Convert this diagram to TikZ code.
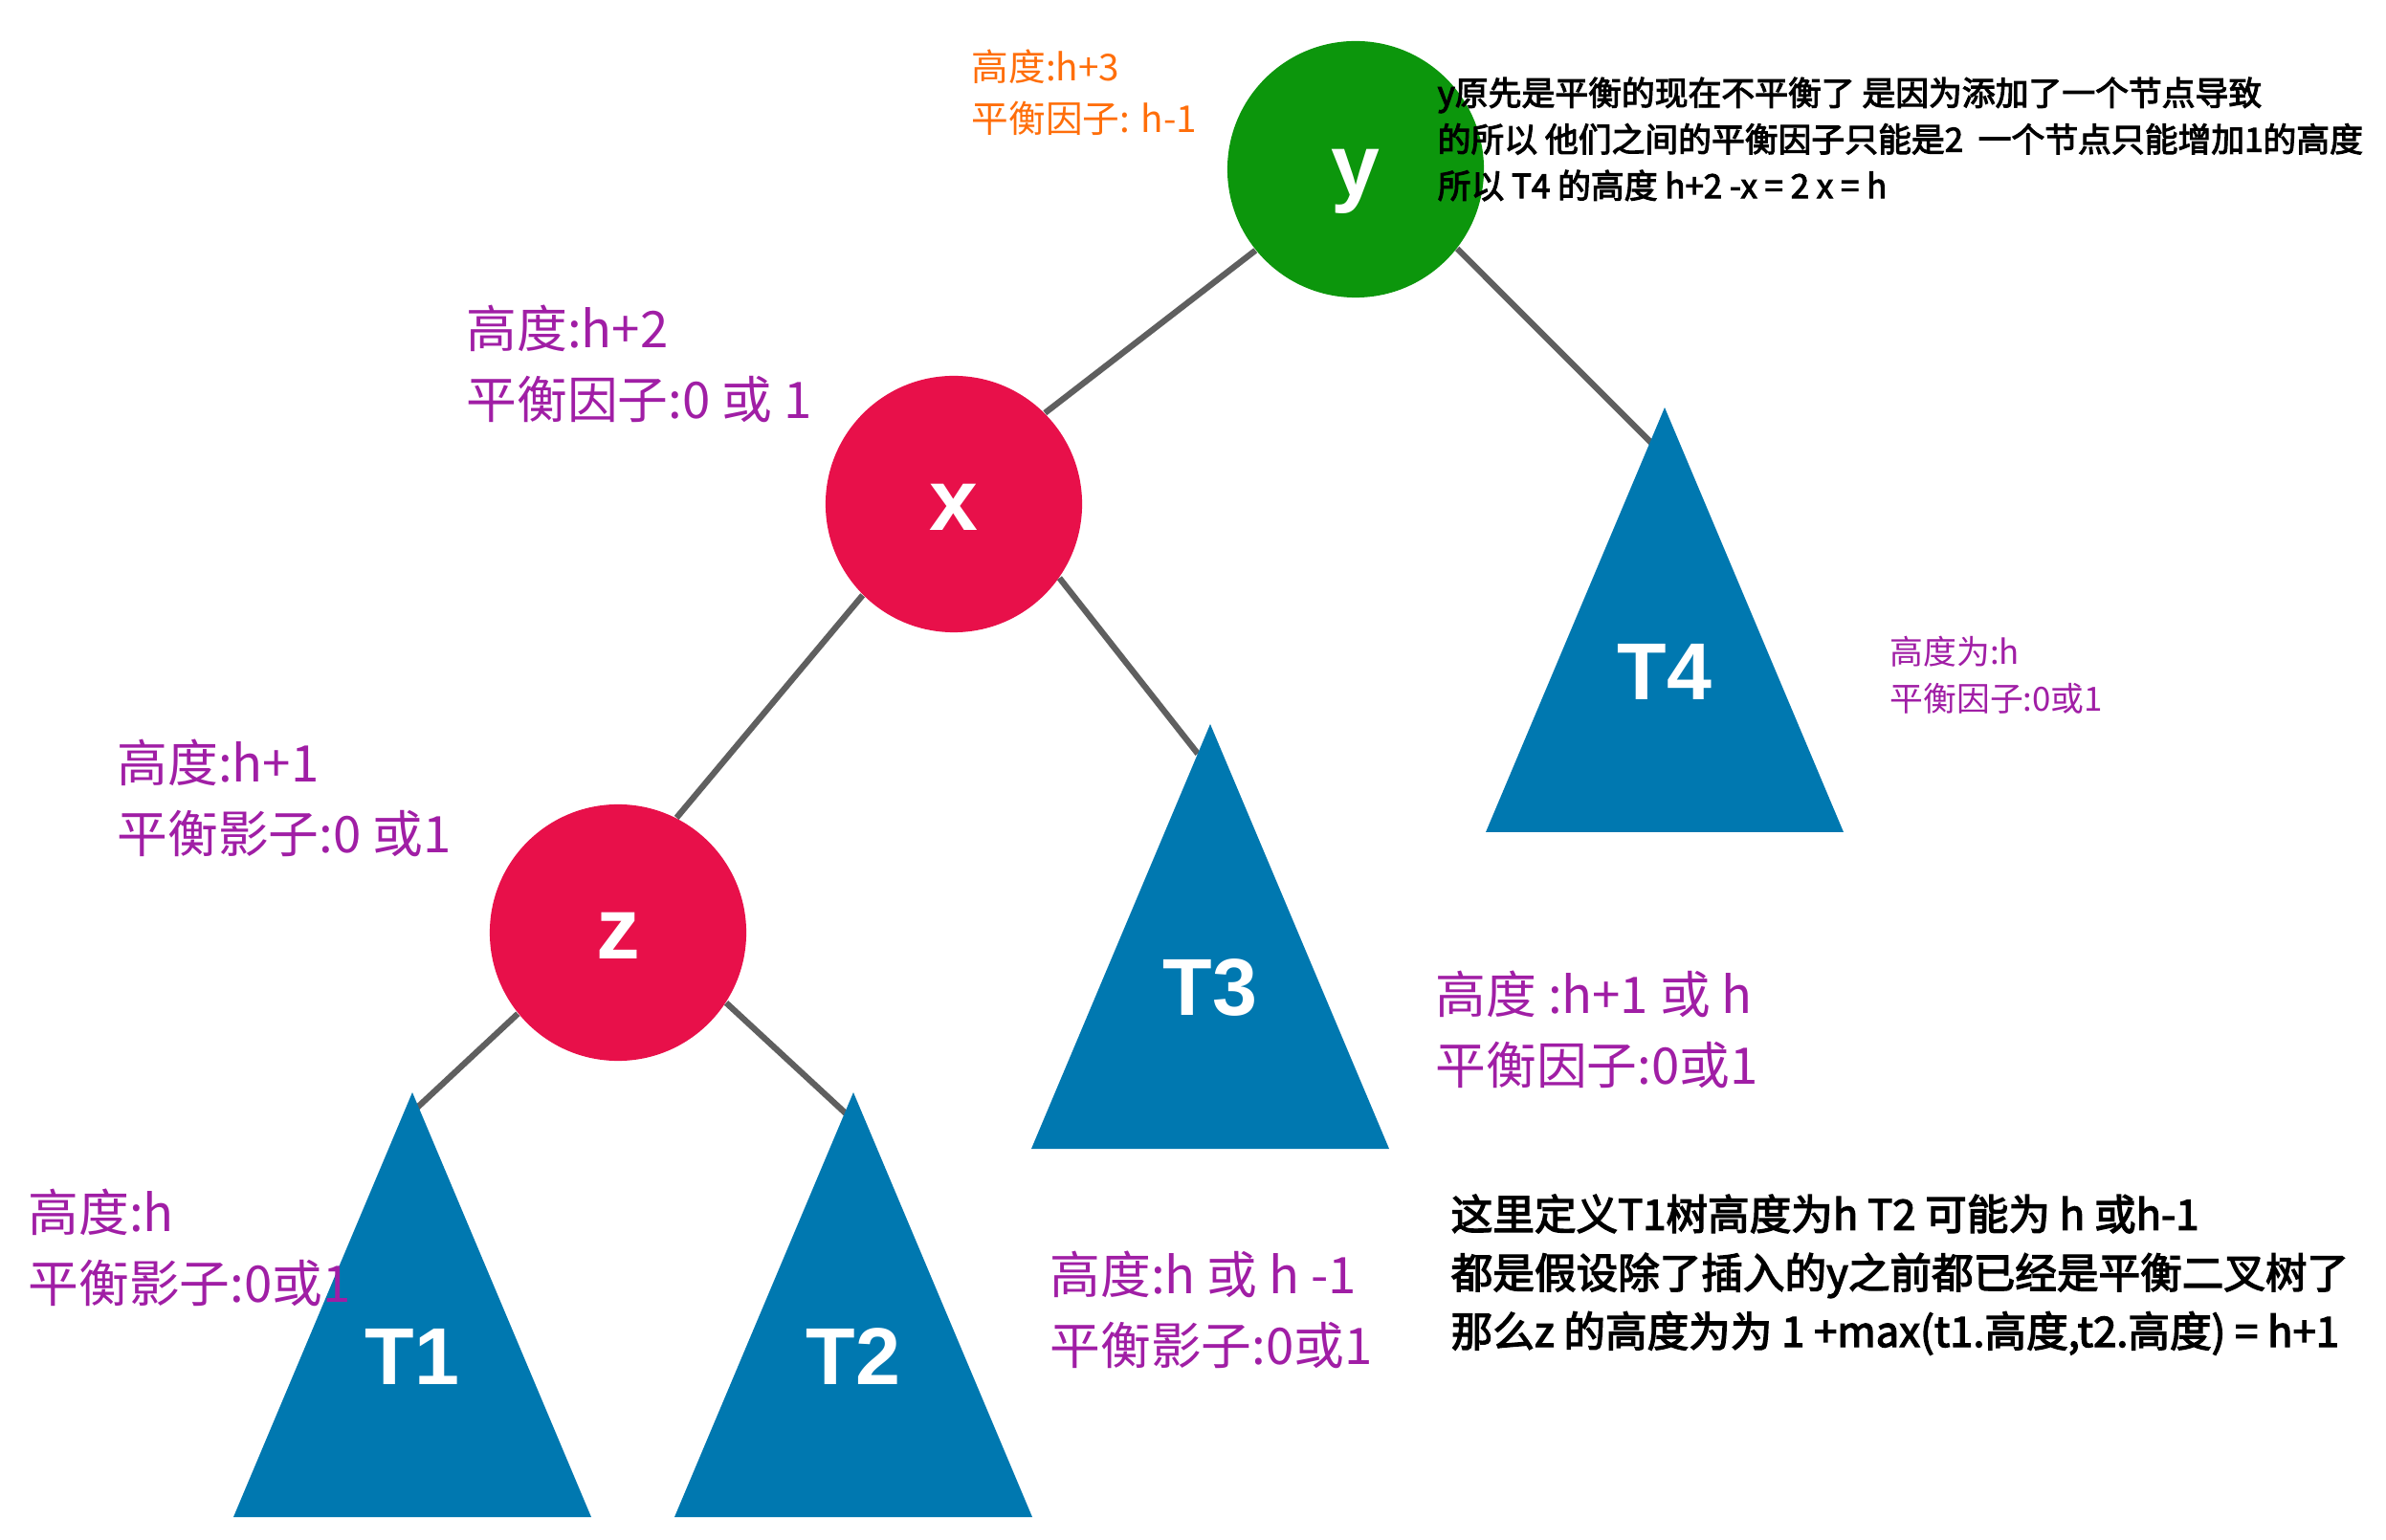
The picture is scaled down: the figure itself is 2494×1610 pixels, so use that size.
\documentclass[tikz,border=0pt]{standalone}
\usepackage{fontspec}
\usepackage{tikz}
\usepackage{xcolor}
\usetikzlibrary{positioning}
\newfontfamily\cjk{Noto Sans CJK SC}
\newfontfamily\cjkheavy[FakeBold=3]{Noto Sans CJK SC}
\newfontfamily\labelsans{Liberation Sans}
\definecolor{nodegreen}{RGB}{12,150,12}
\definecolor{nodered}{RGB}{232,16,74}
\definecolor{treeblue}{RGB}{0,120,176}
\definecolor{notepurple}{RGB}{160,30,165}
\definecolor{noteorange}{RGB}{255,110,10}
\definecolor{edgegray}{RGB}{95,95,95}

\begin{document}
\begin{tikzpicture}[x=0.01cm, y=-0.01cm,
  treenode/.style={circle,minimum size=2.68cm,inner sep=0pt,text=white,text height=15.4pt,text depth=0pt,font=\labelsans\bfseries\fontsize{26}{26}\selectfont},
  edge/.style={draw=edgegray,line width=1.8pt},
  treelabel/.style={text=white,inner sep=0pt,font=\labelsans\bfseries\fontsize{24}{24}\selectfont},
  note/.style={anchor=north west,inner sep=0pt,align=left,text=notepurple,font=\cjk\fontsize{15}{21}\selectfont},
  smallnote/.style={note,font=\cjk\fontsize{9.9}{14}\selectfont},
  topnote/.style={note,text=noteorange,font=\cjk\fontsize{11}{15.4}\selectfont},
  blacknote/.style={note,text=black,font=\cjkheavy\fontsize{9.9}{13.8}\selectfont},
  bignote/.style={note,text=black,font=\cjkheavy\fontsize{12.4}{17.4}\selectfont}]
\useasboundingbox (0,0) rectangle (2494,1610);

% nodes of the tree
\node[treenode,fill=nodegreen] (y) at (1417,177) {y};
\node[treenode,fill=nodered] (x) at (997,527) {x};
\node[treenode,fill=nodered] (z) at (646,975) {z};

% ends of the edges under the subtrees
\coordinate (t4end) at (1726,463);
\coordinate (t3end) at (1252,788);
\coordinate (t1end) at (436,1158);
\coordinate (t2end) at (884,1164);

\draw[edge] (y.-141) -- (x.45);
\draw[edge] (x.-135) -- (z.63);
\draw[edge] (y.-38) -- (t4end);
\draw[edge] (x.-35) -- (t3end);
\draw[edge] (z.-141) -- (t1end);
\draw[edge] (z.-33) -- (t2end);

% subtrees
\foreach \n/\cx/\ty in {T1/431/1142, T2/892/1142, T3/1265/757, T4/1740/426} {
  \fill[treeblue] (\cx,\ty) -- (\cx-187,\ty+444) -- (\cx+187,\ty+444) -- cycle;
  \node[treelabel] (\n) at (\cx,\ty+276) {\n};
}

% notes
\node[topnote] (ynote) at (1015,51) {高度:h+3\\平衡因子: h-1};
\node[blacknote] (why) at (1502,80) {y原先是平衡的现在不平衡了 是因为添加了一个节点导致\\的所以 他们之间的平衡因子只能是2 \ 一个节点只能增加1的高度\\所以 T4 的高度 h+2 -x = 2 x = h};
\node[note] (xnote) at (487,318) {高度:h+2\\平衡因子:0 或 1};
\node[note] (znote) at (122,772) {高度:h+1\\平衡影子:0 或1};
\node[note] (t1note) at (29,1242) {高度:h\\平衡影子:0或1};
\node[note] (t2note) at (1097,1307) {高度:h 或 h -1\\平衡影子:0或1};
\node[note] (t3note) at (1500,1014) {高度 :h+1 或 h\\平衡因子:0或1};
\node[smallnote] (t4note) at (1975,664) {高度为:h\\平衡因子:0或1};
\node[bignote] (defnote) at (1516,1248) {这里定义T1树高度为h T2 可能为 h 或h-1\\都是假设除了插入的y之前都已经是平衡二叉树了\\那么z 的高度为为 1 +max(t1.高度,t2.高度) = h+1};
\end{tikzpicture}
\end{document}
